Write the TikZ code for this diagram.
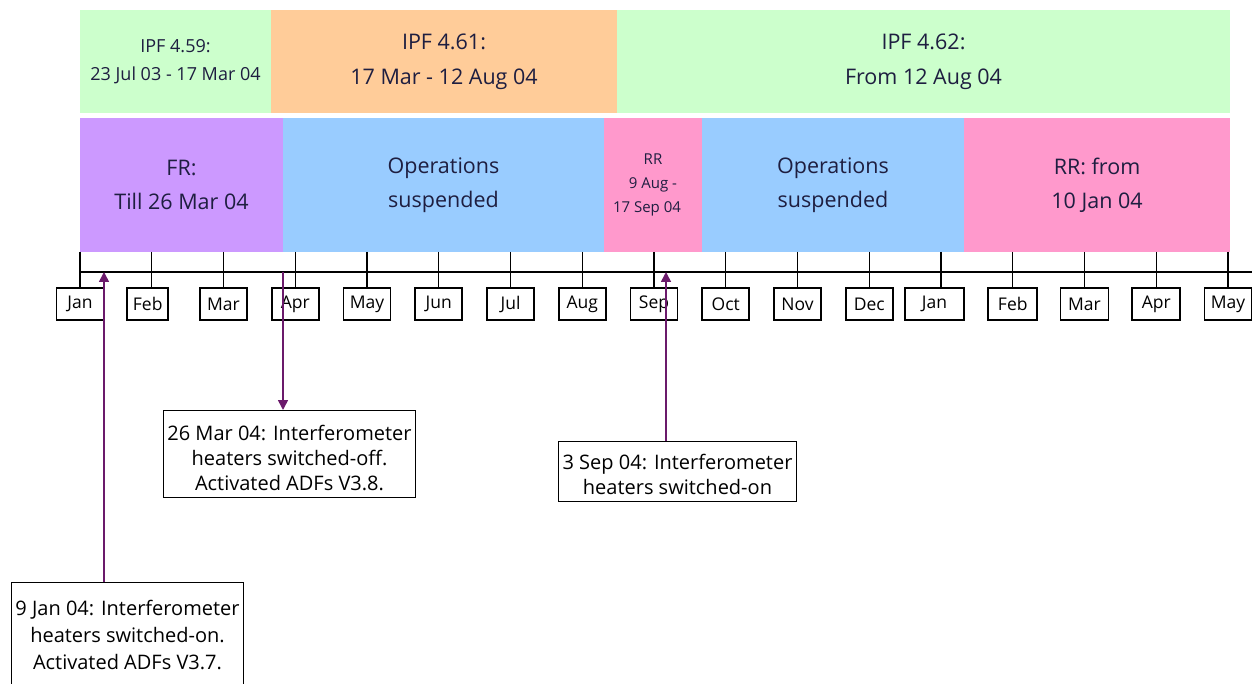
\documentclass[tikz,border=0pt]{standalone}
\usepackage{fontspec}
\setmainfont{Open Sans}
\usetikzlibrary{arrows.meta,positioning}

\definecolor{ipfgreen}{HTML}{CCFFCC}
\definecolor{ipforange}{HTML}{FFCC99}
\definecolor{frpurple}{HTML}{CC99FF}
\definecolor{opsblue}{HTML}{99CCFF}
\definecolor{rrpink}{HTML}{FF99CC}
\definecolor{bandtext}{HTML}{1E1E40}
\definecolor{evpurple}{HTML}{6B1A6B}

\begin{document}
\begin{tikzpicture}[x=1pt,y=-1pt,
    axisline/.style={line width=1.3pt},
    monthbox/.style={draw,line width=1.6pt,inner sep=0pt,minimum height=32pt,
      fill=white,font=\fontsize{17.5}{19}\selectfont},
    evarrow/.style={draw=evpurple,line width=1.6pt,-{Triangle[length=10pt,width=10pt]}}]
  \useasboundingbox (0,0) rectangle (1252,684);

  %IPF versions
  \begin{scope}[every node/.style={inner sep=0pt,align=center,text=bandtext,
      minimum height=103pt,font=\fontsize{21.5}{35}\selectfont}]
    \node[fill=ipfgreen,minimum width=191pt,font=\fontsize{18}{28}\selectfont] (ipf59) at (175.5,61.5) {IPF 4.59:\\23 Jul 03 - 17 Mar 04};
    \node[fill=ipforange,minimum width=346pt] (ipf61) at (444,61.5) {IPF 4.61:\\17 Mar - 12 Aug 04};
    \node[fill=ipfgreen,minimum width=613pt] (ipf62) at (923.5,61.5) {IPF 4.62:\\From 12 Aug 04};
  \end{scope}

  %Modes
  \begin{scope}[every node/.style={inner sep=0pt,align=center,text=bandtext,
      minimum height=134pt,font=\fontsize{21.5}{34}\selectfont}]
    \node[fill=frpurple,minimum width=203pt] (fr) at (181.5,185) {FR:\\Till 26 Mar 04};
    \node[fill=opsblue,minimum width=321pt] (ops1) at (443.5,185) {Operations\\suspended};
    \node[fill=rrpink,minimum width=98pt,font=\fontsize{15}{24}\selectfont]
      (rr1) at (653,185) {RR\\9 Aug -\\17 Sep 04\rule{12pt}{0pt}};
    \node[fill=opsblue,minimum width=262pt] (ops2) at (833,185) {Operations\\suspended};
    \node[fill=rrpink,minimum width=266pt] (rr2) at (1097,185) {RR: from\\10 Jan 04};
  \end{scope}

  %Months
  \draw[axisline] (80,272) -- (1252,272);
  \foreach \m/\dx/\w [count=\i from 0] in {Jan/0/47,Feb/-4/41,Mar/0/47,Apr/0/47,May/0/47,Jun/0/47,Jul/0/47,Aug/0/47,Sep/0/47,Oct/0/47,Nov/0/47,Dec/0/47,Jan/-6.5/59,Feb/0/49,Mar/0/48,Apr/0/48,May/0/47}
  {
    \draw[axisline] (80+71.75*\i,252) -- (80+71.75*\i,288);
    \node[monthbox,minimum width=\w pt] (m\i) at (80+71.75*\i+\dx,304) {\m};
  }

  %Events
  \begin{scope}[every node/.style={draw,line width=1.2pt,align=center,anchor=north,
      inner xsep=4pt,inner ysep=0pt,font=\fontsize{20}{25}\selectfont}]
    \node (mar26) at (289.5,410) {\rule{0pt}{30pt}26 Mar 04: Interferometer\\heaters switched-off.\\Activated ADFs V3.8.\rule[-7pt]{0pt}{7pt}};
    \node (sep3) at (677.5,441) {\rule{0pt}{28pt}3 Sep 04: Interferometer\\heaters switched-on\rule[-7pt]{0pt}{7pt}};
    \node[font=\fontsize{20}{27}\selectfont] (jan9) at (127.5,582) {\rule{0pt}{33pt}9 Jan 04: Interferometer\\heaters switched-on.\\Activated ADFs V3.7.\rule[-30pt]{0pt}{30pt}};
  \end{scope}

  \coordinate (t9jan) at (104,272);
  \coordinate (t26mar) at (283,272);
  \coordinate (t3sep) at (666,272);
  \draw[evarrow] (t9jan |- jan9.north) -- (t9jan);
  \draw[evarrow] (t26mar) -- (t26mar |- mar26.north);
  \draw[evarrow] (t3sep |- sep3.north) -- (t3sep);
\end{tikzpicture}
\end{document}
